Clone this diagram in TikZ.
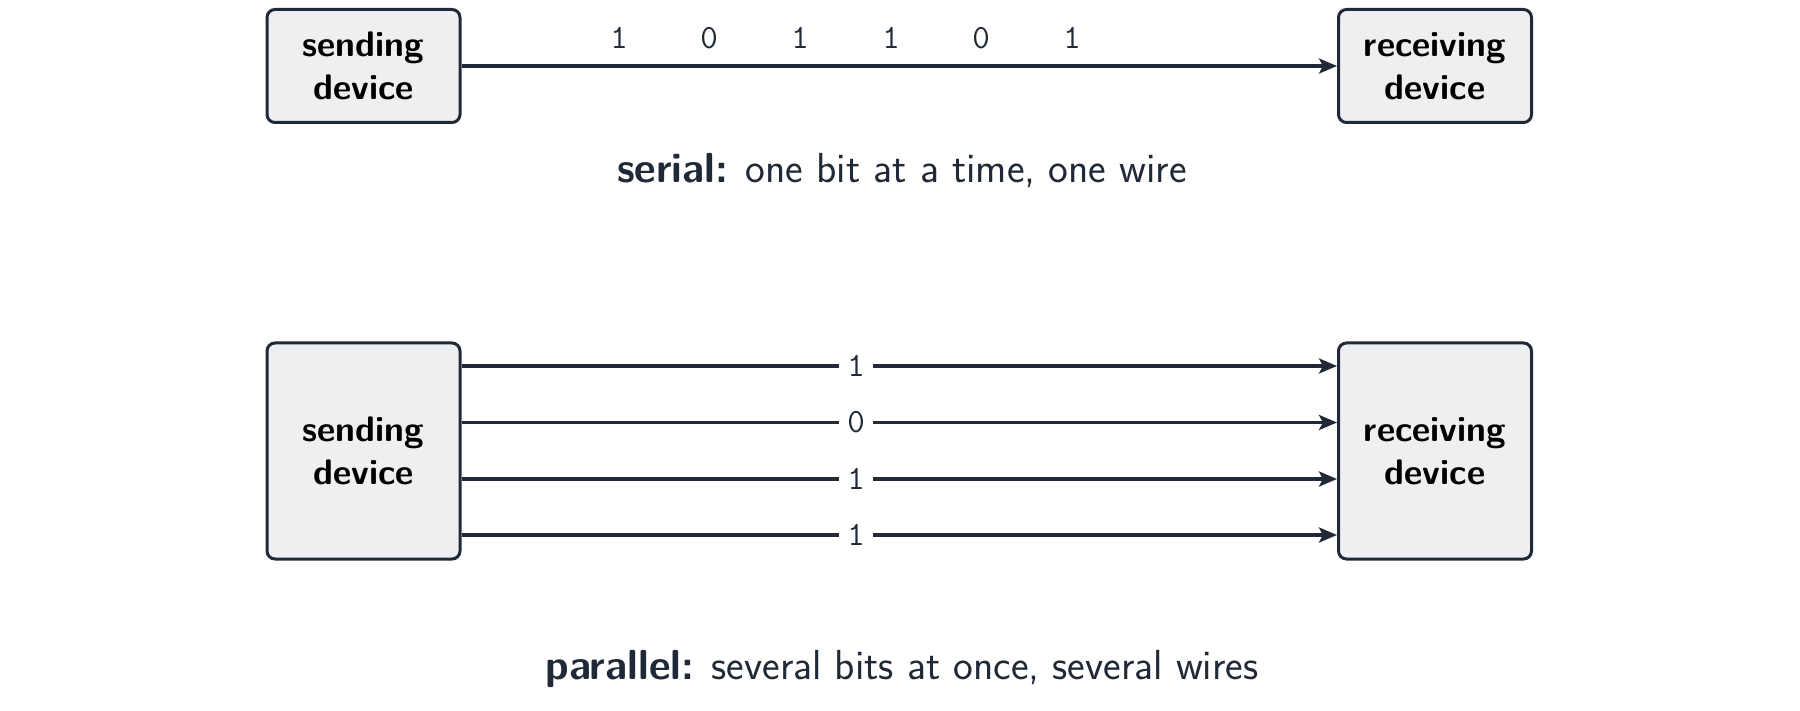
\documentclass[tikz,border=0pt]{standalone}
\usetikzlibrary{arrows.meta}
\renewcommand\familydefault{\sfdefault}
\definecolor{ink}{HTML}{1F2937}
\definecolor{boxfill}{HTML}{EEEFF1}
\begin{document}
\begin{tikzpicture}[x=1pt,y=-1pt,
  dev/.style={draw=ink,fill=boxfill,line width=3pt,rounded corners=8pt,inner sep=0pt,
    minimum width=193pt,align=center,font=\fontsize{35.5}{43}\selectfont\bfseries,text=black},
  wire/.style={draw=ink,line width=3.2pt,-{Stealth[length=18pt,width=15pt,inset=4pt]}},
  bit/.style={font=\fontsize{34}{36}\selectfont\ttfamily,text=ink,inner xsep=8pt,inner ysep=2pt},
  caption/.style={font=\fontsize{42}{48}\selectfont,text=ink}]
\useasboundingbox (0,0) rectangle (1800,711);
% serial
\node[dev,minimum height=113pt] (s1) at (363.5,66) {sending\\device};
\node[dev,minimum height=113pt] (r1) at (1435,66) {receiving\\device};
\draw[wire] (s1) -- (r1);
\node[bit] (a1) at (619,38) {1};
\node[bit] (a2) at (709,38) {0};
\node[bit] (a3) at (800,38) {1};
\node[bit] (a4) at (891,38) {1};
\node[bit] (a5) at (981,38) {0};
\node[bit] (a6) at (1072,38) {1};
\node[caption] (c1) at (902,171) {\textbf{serial:} one bit at a time, one wire};
% parallel
\node[dev,minimum height=216pt] (s2) at (363.5,451) {sending\\device};
\node[dev,minimum height=216pt] (r2) at (1435,451) {receiving\\device};
\foreach \i/\y/\b in {1/366/1,2/422.5/0,3/479/1,4/535/1}{
  \coordinate (p\i) at (856,\y);
  \draw[wire] (s2.east |- p\i) -- (r2.west |- p\i);
  \node[bit,fill=white] (b\i) at (p\i) {\b};
}
\node[caption] (c2) at (902,669) {\textbf{parallel:} several bits at once, several wires};
\end{tikzpicture}
\end{document}
